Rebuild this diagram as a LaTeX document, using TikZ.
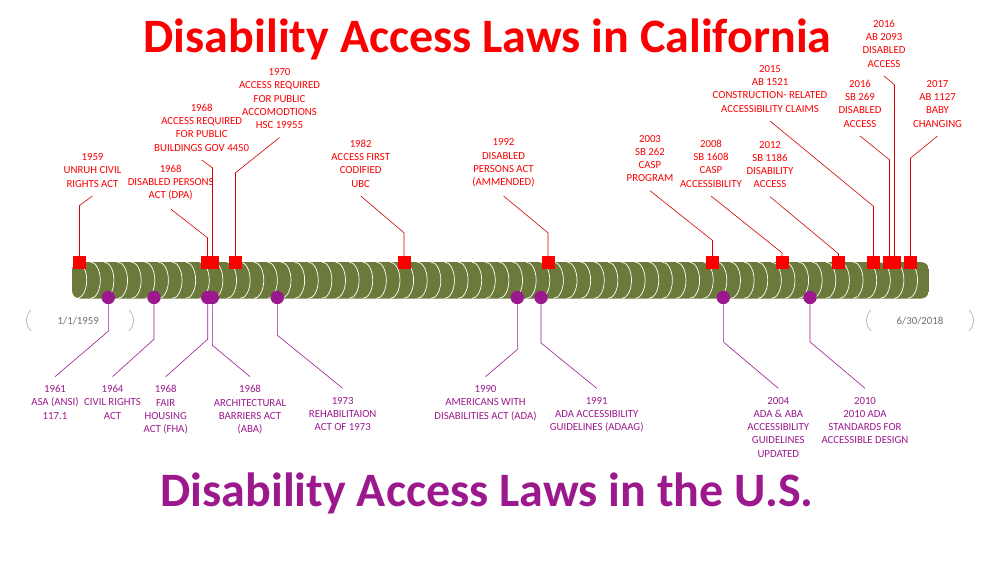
\documentclass[tikz,border=0pt]{standalone}
\usepackage{fontspec}
\setmainfont{Carlito}
\usepackage{tikz}

\definecolor{calred}{RGB}{250,0,0}
\definecolor{usviolet}{RGB}{155,25,140}
\definecolor{trackolive}{RGB}{107,122,58}
\definecolor{dategray}{RGB}{110,110,110}
\newcommand\lblsize{\fontsize{10.8}{13.3}\selectfont}

\begin{document}
\begin{tikzpicture}[
    x=1pt, y=1pt,
    calmark/.style={rectangle, fill=calred, minimum size=13pt, inner sep=0pt},
    usmark/.style={circle, fill=usviolet, minimum size=13.4pt, inner sep=0pt},
    callabel/.style={anchor=south, align=center, font=\lblsize, text=calred, inner xsep=1pt, inner ysep=8.5pt},
    uslabel/.style={anchor=north, align=center, font=\lblsize, text=usviolet, inner xsep=1pt, inner ysep=8.5pt},
    calline/.style={draw=calred!85!black, line width=0.6pt},
    usline/.style={draw=usviolet, line width=0.6pt},
    headline/.style={anchor=base, inner sep=0pt, font=\fontsize{48}{58}\selectfont\bfseries},
    datelabel/.style={font=\lblsize, text=dategray},
    bracket/.style={draw=gray!55, line width=0.8pt},
    stripe/.style={draw=white, line width=0.7pt}
]
\useasboundingbox (0,0) rectangle (992,-564);

% Titles
\node[headline, text=calred] (caltitle) at (487.5,-52.5) {Disability Access Laws in California};
\node[headline, text=usviolet] (ustitle) at (487,-506.7) {Disability Access Laws in the U.S.};

% Time track
\begin{scope}
\clip[rounded corners=8pt] (72,-262) rectangle (929,-298.5);
\fill[trackolive] (72,-262) rectangle (929,-298.5);
\foreach \k in {0,...,61}
    \draw[stripe] ({76.7+13.62*\k},-262) arc[start angle=90, end angle=-90, x radius=10, y radius=18.25];
\end{scope}

% Start and end dates
\node[datelabel] (startdate) at (78.3,-320.7) {1/1/1959};
\node[datelabel] (enddate) at (920,-320.7) {6/30/2018};
\draw[bracket] (31,-310) .. controls (25,-316) and (25,-325) .. (31,-331);
\draw[bracket] (129,-310) .. controls (135,-316) and (135,-325) .. (129,-331);
\draw[bracket] (871,-310) .. controls (865,-316) and (865,-325) .. (871,-331);
\draw[bracket] (969,-310) .. controls (975,-316) and (975,-325) .. (969,-331);

% ---- California ----
% 1959
\node[calmark] (c59) at (79.5,-262.5) {};
\node[callabel] (l59) at (92.5,-196) {1959\\UNRUH CIVIL\\RIGHTS ACT};
\draw[calline] (c59.north) -- ++(0,50.3) -- (l59.south);

% 1968 DPA
\node[calmark] (c68a) at (207.5,-262.5) {};
\node[callabel] (l68a) at (170.7,-209) {1968\\DISABLED PERSONS\\ACT (DPA)};
\draw[calline] (c68a.north) -- ++(0,18) -- (l68a.south);

% 1968 public buildings
\node[calmark] (c68b) at (212.5,-262.5) {};
\node[callabel] (l68b) at (201.7,-160) {1968\\ACCESS REQUIRED\\FOR PUBLIC\\BUILDINGS GOV 4450};
\draw[calline] (c68b.north) -- ++(0,88) -- (l68b.south);

% 1970
\node[calmark] (c70) at (235.5,-262.5) {};
\node[callabel] (l70) at (279.5,-137.5) {1970\\ACCESS REQUIRED\\FOR PUBLIC\\ACCOMODTIONS\\HSC 19955};
\draw[calline] (c70.north) -- ++(0,83) -- (l70.south);

% 1982
\node[calmark] (c82) at (404,-262.5) {};
\node[callabel] (l82) at (360.7,-196) {1982\\ACCESS FIRST\\CODIFIED\\UBC};
\draw[calline] (c82.north) -- ++(0,23) -- (l82.south);

% 1992
\node[calmark] (c92) at (548,-262.5) {};
\node[callabel] (l92) at (503.5,-196) {1992\\DISABLED\\PERSONS ACT\\(AMMENDED)};
\draw[calline] (c92.north) -- ++(0,23) -- (l92.south);

% 2003
\node[calmark] (c03) at (712.5,-262.5) {};
\node[callabel] (l03) at (650,-190.7) {2003\\SB 262\\CASP\\PROGRAM};
\draw[calline] (c03.north) -- ++(0,15.3) -- (l03.south);

% 2008
\node[calmark] (c08) at (782,-262.5) {};
\node[callabel] (l08) at (711,-196) {2008\\SB 1608\\CASP\\ACCESSIBILITY};
\draw[calline] (c08.north) -- ++(0,3) -- (l08.south);

% 2012
\node[calmark] (c12) at (838.5,-262.5) {};
\node[callabel] (l12) at (770,-196.7) {2012\\SB 1186\\DISABILITY\\ACCESS};
\draw[calline] (c12.north) -- ++(0,2) -- (l12.south);

% 2015
\node[calmark] (c15) at (873.5,-262.5) {};
\node[callabel] (l15) at (770,-121) {2015\\AB 1521\\CONSTRUCTION- RELATED\\ACCESSIBILITY CLAIMS};
\draw[calline] (c15.north) -- ++(0,49.5) -- (l15.south);

% 2016 SB 269
\node[calmark] (c16a) at (889.5,-262.5) {};
\node[callabel] (l16a) at (860,-136) {2016\\SB 269\\DISABLED\\ACCESS};
\draw[calline] (c16a.north) -- ++(0,96) -- (l16a.south);

% 2016 AB 2093
\node[calmark] (c16b) at (894.5,-262.5) {};
\node[callabel] (l16b) at (884,-76) {2016\\AB 2093\\DISABLED\\ACCESS};
\draw[calline] (c16b.north) -- ++(0,171) -- (l16b.south);

% 2017
\node[calmark] (c17) at (910.5,-262.5) {};
\node[callabel] (l17) at (937.5,-136) {2017\\AB 1127\\BABY\\CHANGING};
\draw[calline] (c17.north) -- ++(0,97.7) -- (l17.south);

% ---- U.S. ----
% 1961
\node[usmark] (u61) at (108.3,-297.5) {};
\node[uslabel] (v61) at (55,-376.7) {1961\\ASA (ANSI)\\117.1};
\draw[usline] (u61.south) -- ++(0,-26.8) -- (v61.north);

% 1964
\node[usmark] (u64) at (154,-297.5) {};
\node[uslabel] (v64) at (112.5,-376.7) {1964\\CIVIL RIGHTS\\ACT};
\draw[usline] (u64.south) -- ++(0,-34.8) -- (v64.north);

% 1968 FHA
\node[usmark] (u68a) at (207.7,-297.5) {};
\node[uslabel] (v68a) at (165.7,-376.7) {1968\\FAIR\\HOUSING\\ACT (FHA)};
\draw[usline] (u68a.south) -- ++(0,-34.8) -- (v68a.north);

% 1968 ABA
\node[usmark] (u68b) at (212.3,-297.5) {};
\node[uslabel] (v68b) at (250,-376.7) {1968\\ARCHITECTURAL\\BARRIERS ACT\\(ABA)};
\draw[usline] (u68b.south) -- ++(0,-40.8) -- (v68b.north);

% 1973
\node[usmark] (u73) at (277.3,-297.5) {};
\node[uslabel] (v73) at (342.7,-388.3) {1973\\REHABILITAION\\ACT OF 1973};
\draw[usline] (u73.south) -- ++(0,-30.8) -- (v73.north);

% 1990
\node[usmark] (u90) at (517.3,-297.5) {};
\node[uslabel] (v90) at (485.5,-376.7) {1990\\AMERICANS WITH\\DISABILITIES ACT (ADA)};
\draw[usline] (u90.south) -- ++(0,-45.1) -- (v90.north);

% 1991
\node[usmark] (u91) at (541,-297.5) {};
\node[uslabel] (v91) at (596.7,-388.3) {1991\\ADA ACCESSIBILITY\\GUIDELINES (ADAAG)};
\draw[usline] (u91.south) -- ++(0,-38.5) -- (v91.north);

% 2004
\node[usmark] (u04) at (723.3,-297.5) {};
\node[uslabel] (v04) at (778.3,-388.3) {2004\\ADA \& ABA\\ACCESSIBILITY\\GUIDELINES\\UPDATED};
\draw[usline] (u04.south) -- ++(0,-37.5) -- (v04.north);

% 2010
\node[usmark] (u10) at (810,-297.5) {};
\node[uslabel] (v10) at (865,-388.3) {2010\\2010 ADA\\STANDARDS FOR\\ACCESSIBLE DESIGN};
\draw[usline] (u10.south) -- ++(0,-37.5) -- (v10.north);

\end{tikzpicture}
\end{document}
